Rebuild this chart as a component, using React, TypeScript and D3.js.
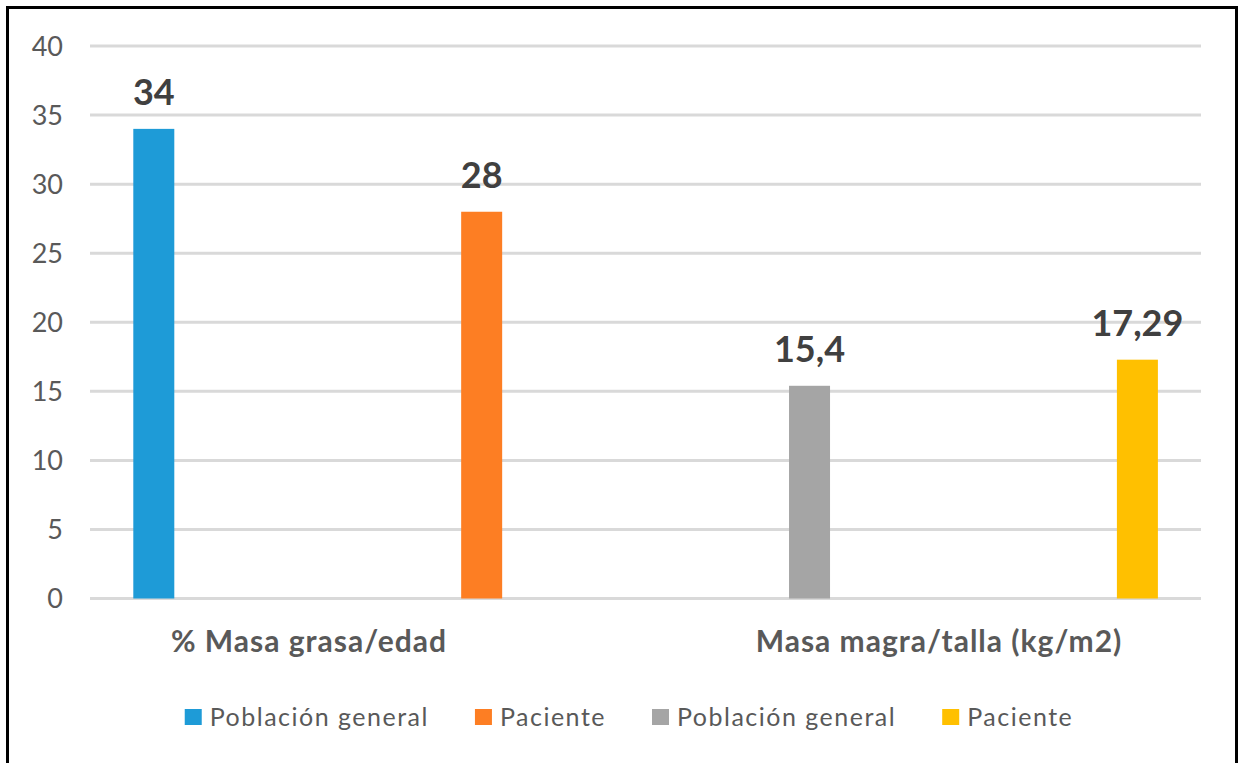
import React, { useRef, useEffect } from "react";
import * as d3 from "d3";

// chart values
const categories = ["% Masa grasa/edad", "Masa magra/talla (kg/m2)"];
const seriesNames = ["Población general", "Paciente", "Población general", "Paciente"];
const seriesCategory = [0, 0, 1, 1];
const seriesValues = [34, 28, 15.4, 17.29];
const seriesLabels = ["34", "28", "15,4", "17,29"];
const seriesColors = ["#1E9BD7", "#FD7E23", "#A5A5A5", "#FFC000"];
const yTicks = [0, 5, 10, 15, 20, 25, 30, 35, 40];

const W = 1239;
const H = 763;
const FONT = "Lato, 'Open Sans', sans-serif";

export default function App() {
  const svgRef = useRef<SVGSVGElement>(null);

  useEffect(() => {
    const svg = d3.select(svgRef.current);
    svg.selectAll("*").remove();

    const y = d3.scaleLinear().domain([0, 40]).range([598.5, 46]);
    const x = d3
      .scalePoint<number>()
      .domain(seriesValues.map((_, i) => i))
      .range([153.8, 1137.4]);
    const xCat = d3.scalePoint<number>().domain([0, 1]).range([309, 939]);
    const barW = 41;

    svg.append("rect").attr("width", W).attr("height", H).attr("fill", "#fff");

    // outer frame
    svg
      .append("rect")
      .attr("x", 7.5)
      .attr("y", 7.5)
      .attr("width", 1229)
      .attr("height", 820)
      .attr("fill", "none")
      .attr("stroke", "#000")
      .attr("stroke-width", 3);

    // gridlines
    svg
      .append("g")
      .selectAll("line")
      .data(yTicks)
      .join("line")
      .attr("x1", 90)
      .attr("x2", 1201)
      .attr("y1", (d) => y(d))
      .attr("y2", (d) => y(d))
      .attr("stroke", "#D9D9D9")
      .attr("stroke-width", 3);

    // y tick labels
    svg
      .append("g")
      .selectAll("text")
      .data(yTicks)
      .join("text")
      .attr("x", 63)
      .attr("y", (d) => y(d))
      .attr("dy", "0.36em")
      .attr("text-anchor", "end")
      .attr("font-family", FONT)
      .attr("font-size", 27)
      .attr("fill", "#595959")
      .text((d) => d);

    // bars
    svg
      .append("g")
      .selectAll("rect")
      .data(seriesValues)
      .join("rect")
      .attr("x", (_, i) => (x(i) as number) - barW / 2)
      .attr("y", (d) => y(d))
      .attr("width", barW)
      .attr("height", (d) => y(0) - y(d))
      .attr("fill", (_, i) => seriesColors[i]);

    // value labels
    svg
      .append("g")
      .selectAll("text")
      .data(seriesValues)
      .join("text")
      .attr("x", (_, i) => x(i) as number)
      .attr("y", (d) => y(d) - 24)
      .attr("text-anchor", "middle")
      .attr("font-family", FONT)
      .attr("font-weight", "bold")
      .attr("font-size", 36)
      .attr("fill", "#404040")
      .text((_, i) => seriesLabels[i]);

    // category labels
    svg
      .append("g")
      .selectAll("text")
      .data(categories)
      .join("text")
      .attr("x", (_, i) => xCat(i) as number)
      .attr("y", 652)
      .attr("text-anchor", "middle")
      .attr("font-family", FONT)
      .attr("font-weight", "bold")
      .attr("font-size", 30)
      .attr("letter-spacing", 1)
      .attr("fill", "#595959")
      .text((d) => d);

    // legend
    const legend = svg.append("g");
    const items = legend
      .selectAll("g")
      .data(seriesNames)
      .join("g");
    items
      .append("text")
      .attr("x", 25)
      .attr("y", 717)
      .attr("dy", "0.36em")
      .attr("font-family", FONT)
      .attr("font-size", 25)
      .attr("letter-spacing", 1.5)
      .attr("fill", "#595959")
      .text((d) => d);
    items
      .append("rect")
      .attr("x", 0)
      .attr("y", 709)
      .attr("width", 17)
      .attr("height", 16)
      .attr("fill", (_, i) => seriesColors[i]);

    const widths: number[] = [];
    items.each(function () {
      const t = d3.select(this).select("text").node() as SVGTextElement;
      widths.push(25 + t.getComputedTextLength());
    });
    const gap = 46;
    const total = d3.sum(widths) + gap * (widths.length - 1);
    let cx = 629 - total / 2;
    items.attr("transform", (_, i) => {
      const tx = cx;
      cx += widths[i] + gap;
      return `translate(${tx},0)`;
    });
  }, []);

  return (
    <div style={{ position: "absolute", left: 0, top: 0 }}>
      <svg ref={svgRef} width={W} height={H} style={{ display: "block" }} />
    </div>
  );
}
